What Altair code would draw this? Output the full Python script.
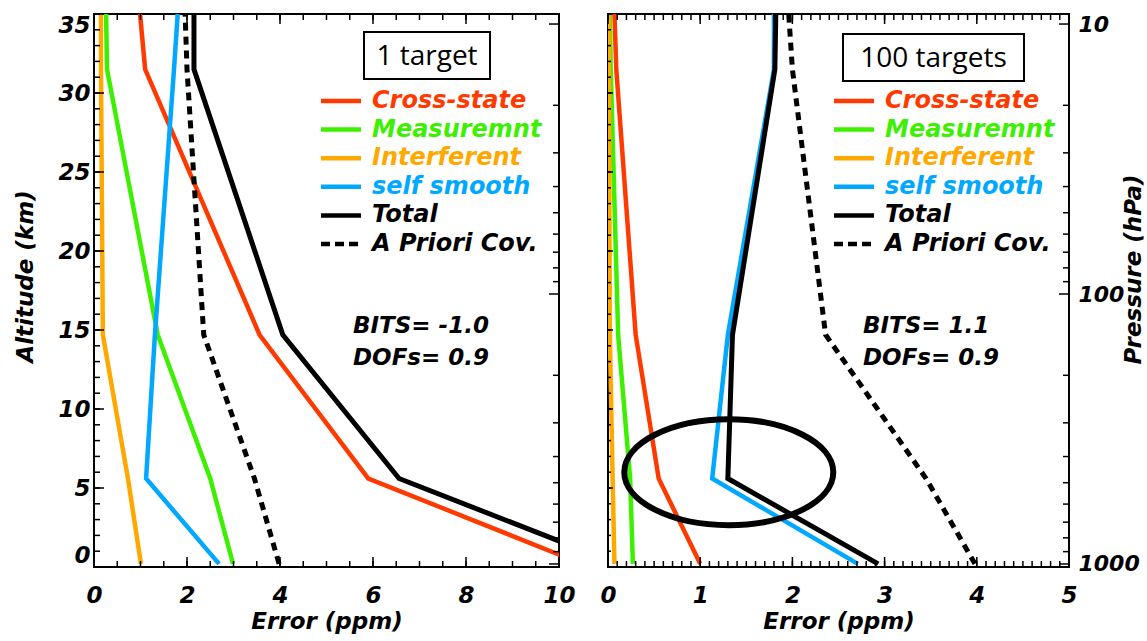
import altair as alt
import pandas as pd

# ---------------- data ----------------
ALTITUDE = [0.2, 5.6, 14.7, 31.5, 35.0]          # km, retrieval levels

SERIES = ["Cross-state", "Measuremnt", "Interferent", "self smooth", "Total", "A Priori Cov."]
COLORS = ["#FF3A00", "#3CF000", "#FFA800", "#00A8FF", "#000000", "#000000"]

# left panel: 1 target (ppm)
L_CROSS = [10.5, 5.9, 3.56, 1.10, 0.99]
L_MEAS = [2.99, 2.50, 1.37, 0.28, 0.26]
L_INTERF = [1.01, 0.73, 0.19, 0.15, 0.15]
L_SELF = [2.69, 1.12, 1.31, 1.72, 1.80]
L_TOTAL = [11.26, 6.56, 4.06, 2.15, 2.15]
APRIORI = [3.98, 3.45, 2.36, 2.00, 1.96]

# right panel: 100 targets (ppm)
R_CROSS = [1.00, 0.55, 0.30, 0.09, 0.07]
R_MEAS = [0.27, 0.24, 0.11, 0.03, 0.02]
R_INTERF = [0.07, 0.05, 0.02, 0.01, 0.01]
R_SELF = [2.71, 1.13, 1.30, 1.80, 1.80]
R_TOTAL = [2.93, 1.30, 1.35, 1.81, 1.82]

PANEL_TITLES = ["1 target", "100 targets"]
LEFT_STATS = ["BITS= -1.0", "DOFs= 0.9"]
RIGHT_STATS = ["BITS= 1.1", "DOFs= 0.9"]

# axis ticks
ALT_MAJOR = [0, 5, 10, 15, 20, 25, 30, 35]
ALT_MINOR = list(range(0, 36))
L_X_MAJOR = [0, 2, 4, 6, 8, 10]
L_X_MINOR = [0, 0.5, 1, 1.5, 2, 2.5, 3, 3.5, 4, 4.5, 5, 5.5, 6, 6.5, 7, 7.5, 8, 8.5, 9, 9.5, 10]
R_X_MAJOR = [0, 1, 2, 3, 4, 5]
R_X_MINOR = [round(i * 0.1, 1) for i in range(0, 51)]
P_MAJOR = [10, 100, 1000]
P_MINOR = [20, 30, 40, 50, 60, 70, 80, 90, 200, 300, 400, 500, 600, 700, 800, 900]
P_RANGE = [9.18, 1026]     # pressure at top / bottom of plot (hPa)

# highlighted region in right panel (ppm, km)
ELLIPSE_X = [1.31]
ELLIPSE_ALT = [6.0]

# ---------------- styling ----------------
FONT = "DejaVu Sans"
H = 553
ELLIPSE_PATH = "M -1 0 A 1 0.507 0 1 1 1 0 A 1 0.507 0 1 1 -1 0 Z"


def lines_df(values):
    rows = []
    for name, vals in zip(SERIES, values):
        for a, v in zip(ALTITUDE, vals):
            rows.append({"series": name, "alt": a, "x": v})
    return pd.DataFrame(rows)


def panel(values, xmax, width, xmajor, xminor, title_txt, box, stats, is_left, ellipse):
    xs = alt.Scale(domain=[0, xmax], nice=False, zero=False)
    ys = alt.Scale(domain=[0, 35], nice=False, zero=False)
    ps = alt.Scale(type="log", domain=P_RANGE, reverse=True, nice=False)

    xaxis = alt.Axis(values=xmajor, format="d", grid=False, ticks=False, tickSize=0, domain=False,
                     labelFlush=False, labelPadding=17, labelFont=FONT, labelFontWeight="bold",
                     labelFontStyle="italic", labelFontSize=23, labelColor="black",
                     title="Error (ppm)", titleFont=FONT, titleFontWeight="bold", titleFontStyle="italic",
                     titleFontSize=23, titleColor="black", titlePadding=3)
    xenc = alt.X("x:Q", scale=xs, axis=xaxis)

    if is_left:
        yaxis = alt.Axis(orient="left", values=ALT_MAJOR, format="d", grid=False, ticks=False, tickSize=0,
                         domain=False, labelFlush=True, labelPadding=4, labelFont=FONT,
                         labelFontWeight="bold", labelFontStyle="italic", labelFontSize=23,
                         labelColor="black", title="Altitude (km)", titleFont=FONT,
                         titleFontWeight="bold", titleFontStyle="italic", titleFontSize=23,
                         titleColor="black", titleAngle=270, titleX=-62, titleY=262,
                         titleAlign="center", titleBaseline="alphabetic")
    else:
        yaxis = None
    yenc = alt.Y("alt:Q", scale=ys, axis=yaxis)
    yenc_plain = alt.Y("alt:Q", scale=ys, axis=None)

    df = lines_df(values)
    cscale = alt.Scale(domain=SERIES, range=COLORS)

    layers = []
    colored = alt.Chart(df[df.series.isin(SERIES[:4])]).mark_line(clip=True, strokeWidth=4.5).encode(
        x=xenc, y=yenc, color=alt.Color("series:N", scale=cscale, legend=None),
        detail="series:N", order="alt:Q")
    total = alt.Chart(df[df.series == "Total"]).mark_line(clip=True, strokeWidth=5, color="black").encode(
        x=xenc, y=yenc_plain, order="alt:Q")
    apr = alt.Chart(df[df.series == "A Priori Cov."]).mark_line(
        clip=True, strokeWidth=5, color="black", strokeDash=[8, 6]).encode(
        x=xenc, y=yenc_plain, order="alt:Q")
    layers += [colored, total, apr]

    # inward ticks: altitude on left edge
    amaj_len, amin_len = (10, 6) if is_left else (5, 3)
    layers.append(alt.Chart(pd.DataFrame({"alt": ALT_MINOR})).mark_rule(color="black", strokeWidth=1.5).encode(
        y=yenc_plain, x=alt.value(0), x2=alt.value(amin_len)))
    layers.append(alt.Chart(pd.DataFrame({"alt": ALT_MAJOR})).mark_rule(color="black", strokeWidth=1.5).encode(
        y=yenc_plain, x=alt.value(0), x2=alt.value(amaj_len)))

    # pressure ticks on right edge
    if is_left:
        paxis = None
    else:
        paxis = alt.Axis(orient="right", values=P_MAJOR, format="d", grid=False, ticks=False, tickSize=0,
                         domain=False, labelPadding=9, labelFont=FONT, labelFontWeight="bold",
                         labelFontStyle="italic", labelFontSize=22, labelColor="black",
                         title="Pressure (hPa)", titleFont=FONT, titleFontWeight="bold",
                         titleFontStyle="italic", titleFontSize=23, titleColor="black",
                         titleAngle=270, titleX=71, titleY=255, titleAlign="center",
                         titleBaseline="alphabetic")
    layers.append(alt.Chart(pd.DataFrame({"p": P_MINOR})).mark_rule(color="black", strokeWidth=1.5).encode(
        y=alt.Y("p:Q", scale=ps, axis=None), x=alt.value(width), x2=alt.value(width - 6)))
    layers.append(alt.Chart(pd.DataFrame({"p": P_MAJOR})).mark_rule(color="black", strokeWidth=1.5).encode(
        y=alt.Y("p:Q", scale=ps, axis=paxis), x=alt.value(width), x2=alt.value(width - 10)))

    # inward ticks on bottom and top
    for vals_, ln in ((xminor, 6), (xmajor, 10)):
        tdf = pd.DataFrame({"x": vals_})
        layers.append(alt.Chart(tdf).mark_rule(color="black", strokeWidth=1.5).encode(
            x=xenc, y=alt.value(H), y2=alt.value(H - ln)))
        layers.append(alt.Chart(tdf).mark_rule(color="black", strokeWidth=1.5).encode(
            x=xenc, y=alt.value(0), y2=alt.value(ln)))

    # title box
    bx0, bx1, by0, by1 = box
    tdf = pd.DataFrame({"t": [title_txt]})
    layers.append(alt.Chart(tdf).mark_rect(fill="white", stroke="black", strokeWidth=2).encode(
        x=alt.value(bx0), x2=alt.value(bx1), y=alt.value(by0), y2=alt.value(by1)))
    layers.append(alt.Chart(tdf).mark_text(font="Open Sans", fontSize=28, color="black",
                                           align="center", baseline="middle").encode(
        x=alt.value((bx0 + bx1) / 2), y=alt.value((by0 + by1) / 2 + 1), text="t:N"))

    # legend
    leg = pd.DataFrame({"label": SERIES, "row": list(range(6)), "color": COLORS})
    ry = alt.Y("row:Q", scale=alt.Scale(domain=[0, 5], range=[87, 230]), axis=None)
    lx0 = 227 if is_left else 226
    layers.append(alt.Chart(leg[leg.row < 5]).mark_rule(strokeWidth=4.5).encode(
        x=alt.value(lx0), x2=alt.value(lx0 + 40), y=ry, color=alt.Color("color:N", scale=None)))
    layers.append(alt.Chart(leg[leg.row == 5]).mark_rule(strokeWidth=4.5, strokeDash=[9, 5], color="black").encode(
        x=alt.value(lx0), x2=alt.value(lx0 + 40), y=ry))
    layers.append(alt.Chart(leg).mark_text(font=FONT, fontWeight="bold", fontStyle="italic", fontSize=24,
                                           align="left", baseline="middle").encode(
        x=alt.value(lx0 + 51), y=ry, text="label:N", color=alt.Color("color:N", scale=None)))

    # stats text
    sdf = pd.DataFrame({"t": stats, "row": [0, 1]})
    layers.append(alt.Chart(sdf).mark_text(font=FONT, fontWeight="bold", fontStyle="italic", fontSize=23,
                                           align="left", baseline="middle", color="black").encode(
        x=alt.value(259 if is_left else 255),
        y=alt.Y("row:Q", scale=alt.Scale(domain=[0, 1], range=[312, 344]), axis=None),
        text="t:N"))

    if ellipse:
        edf = pd.DataFrame({"x": ELLIPSE_X, "alt": ELLIPSE_ALT})
        layers.append(alt.Chart(edf).mark_point(shape=ELLIPSE_PATH, size=43681, filled=False, strokeWidth=6,
                                                color="black", opacity=1).encode(
            x=xenc, y=yenc_plain))

    return alt.layer(*layers).resolve_scale(y="independent").properties(width=width, height=H)


left = panel([L_CROSS, L_MEAS, L_INTERF, L_SELF, L_TOTAL, APRIORI], 10, 465, L_X_MAJOR, L_X_MINOR,
             PANEL_TITLES[0], (270, 396, 18, 65), LEFT_STATS, True, False)
right = panel([R_CROSS, R_MEAS, R_INTERF, R_SELF, R_TOTAL, APRIORI], 5, 461, R_X_MAJOR, R_X_MINOR,
              PANEL_TITLES[1], (235, 416, 20, 67), RIGHT_STATS, False, True)

chart = alt.hconcat(left, right, spacing=49, bounds="flush").properties(
    padding={"left": 13, "top": 12, "right": 0, "bottom": 0},
    background="white",
).configure_view(stroke="black", strokeWidth=2)

chart.save("out.html", embed_options={"renderer": "svg", "actions": False})
